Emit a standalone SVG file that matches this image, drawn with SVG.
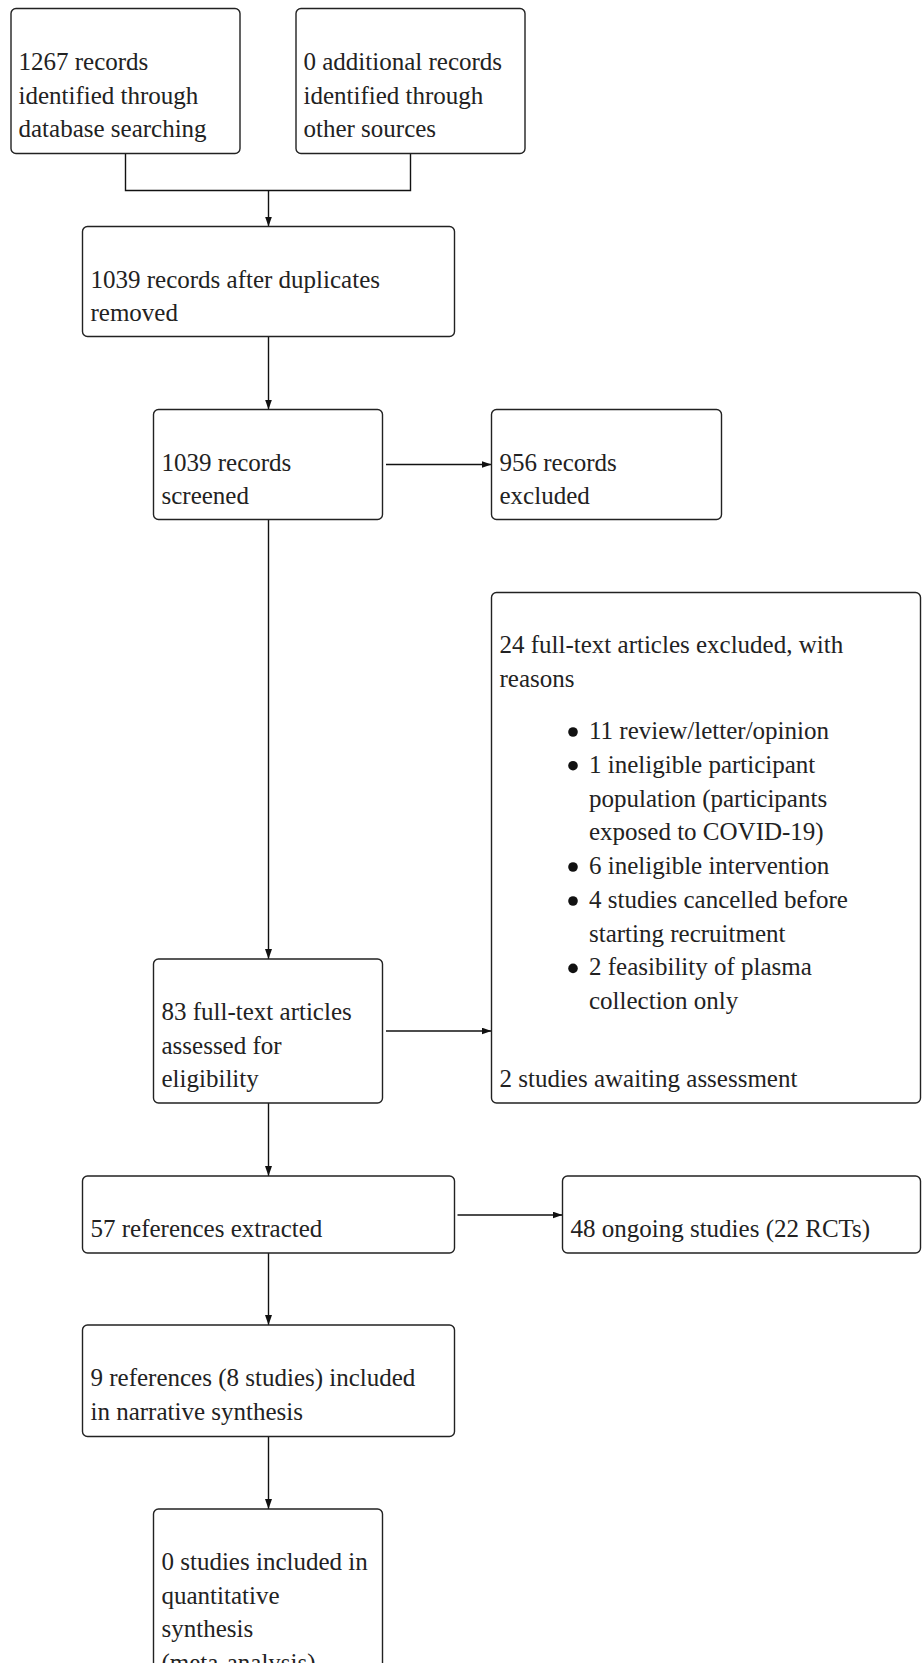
<svg xmlns="http://www.w3.org/2000/svg" width="922" height="1663" viewBox="0 0 922 1663" font-family="Liberation Serif, DejaVu Serif, serif">
<defs>
<style>
.box{fill:#fff;stroke:#222;stroke-width:1.4}
.t{font-size:25px;fill:#222}
.c{fill:none;stroke:#111;stroke-width:1.4}
.dot{fill:#111}
</style>
<marker id="ah" markerUnits="userSpaceOnUse" markerWidth="10" markerHeight="7" refX="10" refY="3.5" orient="auto">
<path d="M0,0 L10,3.5 L0,7 z" fill="#111"/>
</marker>
</defs>
<rect width="922" height="1663" fill="#fff"/>
<g id="connectors">
<path class="c" d="M125.5,153.5 V190.5 H410.5 V153.5"/>
<path class="c" d="M268.5,190.5 V226.5" marker-end="url(#ah)"/>
<path class="c" d="M268.5,336.5 V409.5" marker-end="url(#ah)"/>
<path class="c" d="M386,464.5 H491.5" marker-end="url(#ah)"/>
<path class="c" d="M268.5,519.5 V959" marker-end="url(#ah)"/>
<path class="c" d="M386,1031 H491.5" marker-end="url(#ah)"/>
<path class="c" d="M268.5,1103 V1176" marker-end="url(#ah)"/>
<path class="c" d="M457.5,1215 H562.5" marker-end="url(#ah)"/>
<path class="c" d="M268.5,1253 V1325" marker-end="url(#ah)"/>
<path class="c" d="M268.5,1436.5 V1509" marker-end="url(#ah)"/>
</g>
<g id="n1">
<rect class="box" x="11" y="8.5" width="229" height="145" rx="5"/>
<text class="t" x="18.5" y="70">1267 records</text>
<text class="t" x="18.5" y="103.5">identified through</text>
<text class="t" x="18.5" y="137">database searching</text>
</g>
<g id="n2">
<rect class="box" x="296" y="8.5" width="229" height="145" rx="5"/>
<text class="t" x="303.5" y="70">0 additional records</text>
<text class="t" x="303.5" y="103.5">identified through</text>
<text class="t" x="303.5" y="137">other sources</text>
</g>
<g id="n3">
<rect class="box" x="82.5" y="226.5" width="372" height="110" rx="5"/>
<text class="t" x="90.5" y="287.5">1039 records after duplicates</text>
<text class="t" x="90.5" y="321">removed</text>
</g>
<g id="n4">
<rect class="box" x="153.5" y="409.5" width="229" height="110" rx="5"/>
<text class="t" x="161.5" y="470.5">1039 records</text>
<text class="t" x="161.5" y="504">screened</text>
</g>
<g id="n5">
<rect class="box" x="491.5" y="409.5" width="230" height="110" rx="5"/>
<text class="t" x="499.5" y="470.5">956 records</text>
<text class="t" x="499.5" y="504">excluded</text>
</g>
<g id="n6">
<rect class="box" x="491.5" y="592.5" width="429" height="510.5" rx="5"/>
<text class="t" x="499.5" y="653">24 full-text articles excluded, with</text>
<text class="t" x="499.5" y="686.5">reasons</text>
<circle class="dot" cx="573" cy="732" r="4.8"/>
<text class="t" x="589" y="739">11 review/letter/opinion</text>
<circle class="dot" cx="573" cy="765.7" r="4.8"/>
<text class="t" x="589" y="772.7">1 ineligible participant</text>
<text class="t" x="589" y="806.5">population (participants</text>
<text class="t" x="589" y="840.3">exposed to COVID-19)</text>
<circle class="dot" cx="573" cy="867" r="4.8"/>
<text class="t" x="589" y="874">6 ineligible intervention</text>
<circle class="dot" cx="573" cy="901" r="4.8"/>
<text class="t" x="589" y="908">4 studies cancelled before</text>
<text class="t" x="589" y="941.6">starting recruitment</text>
<circle class="dot" cx="573" cy="968.4" r="4.8"/>
<text class="t" x="589" y="975.4">2 feasibility of plasma</text>
<text class="t" x="589" y="1009.2">collection only</text>
<text class="t" x="499.5" y="1087">2 studies awaiting assessment</text>
</g>
<g id="n7">
<rect class="box" x="153.5" y="959" width="229" height="144" rx="5"/>
<text class="t" x="161.5" y="1020">83 full-text articles</text>
<text class="t" x="161.5" y="1053.5">assessed for</text>
<text class="t" x="161.5" y="1087">eligibility</text>
</g>
<g id="n8">
<rect class="box" x="82.5" y="1176" width="372" height="77" rx="5"/>
<text class="t" x="90.5" y="1237">57 references extracted</text>
</g>
<g id="n9">
<rect class="box" x="562.5" y="1176" width="358" height="77" rx="5"/>
<text class="t" x="570.5" y="1237">48 ongoing studies (22 RCTs)</text>
</g>
<g id="n10">
<rect class="box" x="82.5" y="1325" width="372" height="111.5" rx="5"/>
<text class="t" x="90.5" y="1386">9 references (8 studies) included</text>
<text class="t" x="90.5" y="1420">in narrative synthesis</text>
</g>
<g id="n11">
<rect class="box" x="153.5" y="1509" width="229" height="178" rx="5"/>
<text class="t" x="161.5" y="1570">0 studies included in</text>
<text class="t" x="161.5" y="1603.5">quantitative</text>
<text class="t" x="161.5" y="1637">synthesis</text>
<text class="t" x="161.5" y="1670.5">(meta-analysis)</text>
</g>
</svg>
